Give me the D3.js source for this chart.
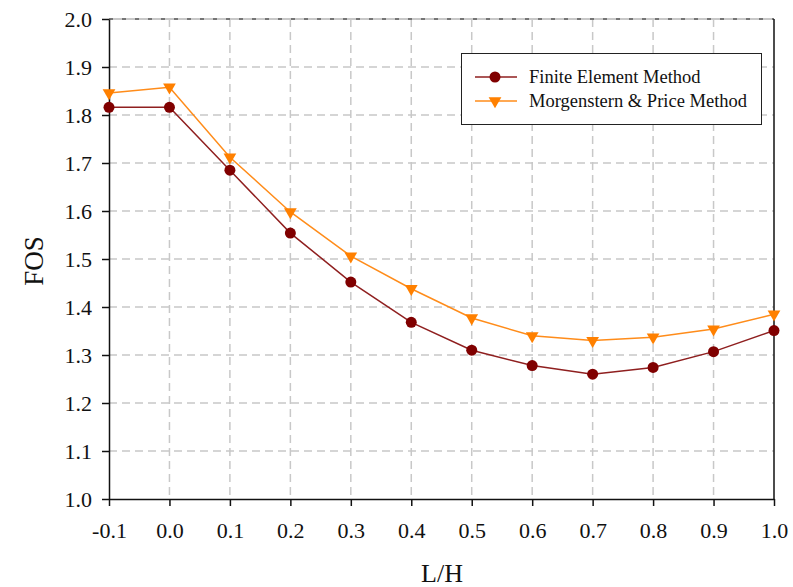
<!DOCTYPE html>
<html>
<head>
<meta charset="utf-8">
<script src="https://cdn.jsdelivr.net/npm/d3@7"></script>
<style>
  html, body { margin: 0; padding: 0; background: #fff; }
  text { font-family: "Liberation Serif", "Times New Roman", serif; fill: #111; }
</style>
</head>
<body>
<svg id="chart" width="793" height="587"></svg>
<script>
// L/H ratios and factor-of-safety results for each method
const ratios = [-0.1, 0.0, 0.1, 0.2, 0.3, 0.4, 0.5, 0.6, 0.7, 0.8, 0.9, 1.0];
const femFOS = [1.816, 1.816, 1.685, 1.554, 1.452, 1.368, 1.310, 1.278, 1.260, 1.274, 1.307, 1.351];
const mpFOS  = [1.846, 1.858, 1.712, 1.598, 1.506, 1.438, 1.377, 1.340, 1.330, 1.337, 1.354, 1.385];
const xTicks = [-0.1, 0.0, 0.1, 0.2, 0.3, 0.4, 0.5, 0.6, 0.7, 0.8, 0.9, 1.0];
const yTicks = [1.0, 1.1, 1.2, 1.3, 1.4, 1.5, 1.6, 1.7, 1.8, 1.9, 2.0];
const seriesNames = ["Finite Element Method", "Morgenstern & Price Method"];

const svg = d3.select("#chart");
const plotL = 109, plotR = 774, plotT = 19, plotB = 499;

const x = d3.scaleLinear().domain([-0.1, 1.0]).range([plotL, plotR]);
const y = d3.scaleLinear().domain([1.0, 2.0]).range([plotB, plotT]);

// one decimal, plain hyphen for negatives
const fmt = d => d.toFixed(1);

// dashed grid
const grid = svg.append("g");
grid.selectAll("line.v").data(xTicks.slice(1, -1)).enter().append("line")
  .attr("x1", d => x(d)).attr("x2", d => x(d)).attr("y1", plotT).attr("y2", plotB)
  .attr("stroke", "#c8c8c8").attr("stroke-width", 1.5).attr("stroke-dasharray", "8,5");
grid.selectAll("line.h").data(yTicks.slice(1, -1)).enter().append("line")
  .attr("x1", plotL).attr("x2", plotR).attr("y1", d => y(d)).attr("y2", d => y(d))
  .attr("stroke", "#c8c8c8").attr("stroke-width", 1.5).attr("stroke-dasharray", "8,5");

// top frame edge: light line with dark dashes
svg.append("line").attr("x1", plotL).attr("x2", plotR).attr("y1", plotT).attr("y2", plotT)
  .attr("stroke", "#c8c8c8").attr("stroke-width", 2);
svg.append("line").attr("x1", plotL).attr("x2", plotR).attr("y1", plotT).attr("y2", plotT)
  .attr("stroke", "#222").attr("stroke-width", 1).attr("stroke-dasharray", "4,9");
// right frame edge
svg.append("line").attr("x1", plotR).attr("x2", plotR).attr("y1", plotT).attr("y2", plotB)
  .attr("stroke", "#111").attr("stroke-width", 1.5);

// axes
const xAxis = d3.axisBottom(x).tickValues(xTicks).tickFormat(fmt).tickSizeInner(7).tickSizeOuter(0).tickPadding(16);
const yAxis = d3.axisLeft(y).tickValues(yTicks).tickFormat(fmt).tickSizeInner(7).tickSizeOuter(0).tickPadding(10);

const gx = svg.append("g").attr("transform", `translate(0,${plotB})`).call(xAxis);
const gy = svg.append("g").attr("transform", `translate(${plotL},0)`).call(yAxis);
[gx, gy].forEach(g => {
  g.attr("font-family", null).attr("font-size", null);
  g.select(".domain").attr("stroke", "#111").attr("stroke-width", 1.5);
  g.selectAll(".tick line").attr("stroke", "#111").attr("stroke-width", 1.5);
  g.selectAll(".tick text").style("font-family", '"Liberation Serif", serif')
    .style("font-size", "22px").attr("fill", "#111");
});
gx.selectAll(".tick text").attr("dy", "0.71em");

// axis titles
svg.append("text").attr("x", 442).attr("y", 582).attr("text-anchor", "middle")
  .style("font-size", "26px").text("L/H");
svg.append("text").attr("transform", `translate(43,261) rotate(-90)`)
  .attr("text-anchor", "middle").style("font-size", "27px").text("FOS");

const femColor = "#800000", femLine = "#8f1f1f";
const mpColor = "#ff8000", mpLine = "#ff8c1a";

const line = d3.line().x((d, i) => x(ratios[i])).y(d => y(d));
svg.append("path").datum(mpFOS).attr("d", line).attr("fill", "none")
  .attr("stroke", mpLine).attr("stroke-width", 1.5);
svg.append("path").datum(femFOS).attr("d", line).attr("fill", "none")
  .attr("stroke", femLine).attr("stroke-width", 1.5);

const tri = d3.symbol().type(d3.symbolTriangle).size(70);
svg.selectAll("path.mp").data(mpFOS).enter().append("path")
  .attr("transform", (d, i) => `translate(${x(ratios[i])},${y(d)}) rotate(180)`)
  .attr("d", tri).attr("fill", mpColor);
svg.selectAll("circle.fem").data(femFOS).enter().append("circle")
  .attr("cx", (d, i) => x(ratios[i])).attr("cy", d => y(d)).attr("r", 5.5)
  .attr("fill", femColor);

// legend
const lg = svg.append("g");
lg.append("rect").attr("x", 461.5).attr("y", 53.5).attr("width", 300).attr("height", 71)
  .attr("fill", "#fff").attr("stroke", "#222").attr("stroke-width", 1);
const rows = [
  { name: seriesNames[0], color: femColor, lineColor: femLine, shape: "circle", yy: 77 },
  { name: seriesNames[1], color: mpColor, lineColor: mpLine, shape: "tri", yy: 101 }
];
rows.forEach(r => {
  lg.append("line").attr("x1", 475).attr("x2", 517).attr("y1", r.yy).attr("y2", r.yy)
    .attr("stroke", r.lineColor).attr("stroke-width", 1.5);
  if (r.shape === "circle") {
    lg.append("circle").attr("cx", 495).attr("cy", r.yy).attr("r", 5.5).attr("fill", r.color);
  } else {
    lg.append("path").attr("transform", `translate(495,${r.yy}) rotate(180)`)
      .attr("d", tri).attr("fill", r.color);
  }
  lg.append("text").attr("x", 529).attr("y", r.yy).attr("dy", "0.33em")
    .style("font-size", "18.5px").text(r.name);
});
</script>
</body>
</html>
